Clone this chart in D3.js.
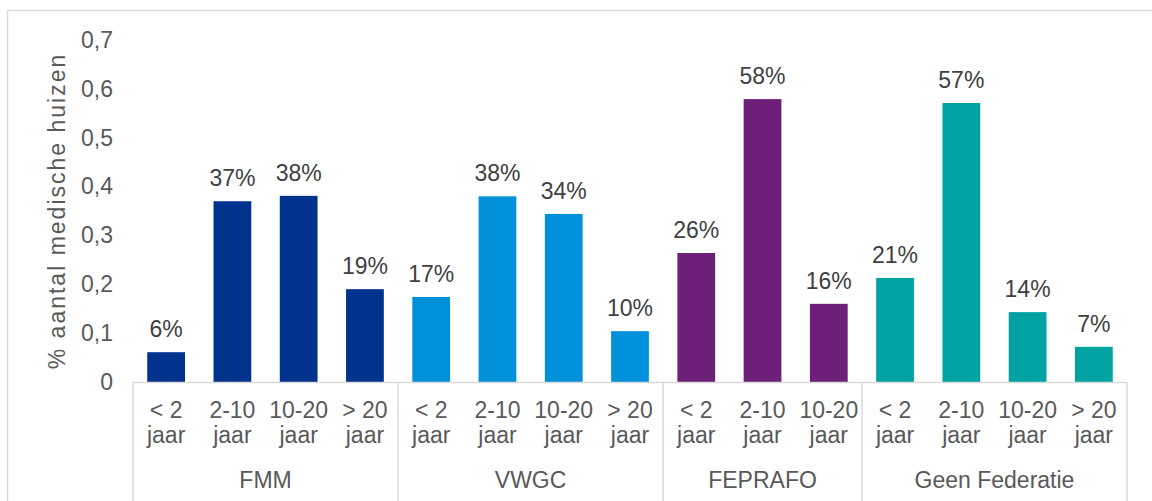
<!DOCTYPE html>
<html>
<head>
<meta charset="utf-8">
<script src="https://cdn.jsdelivr.net/npm/d3@7"></script>
<style>
  body { margin: 0; background: #fff; }
  text { font-family: "Liberation Sans", Arial, sans-serif; }
</style>
</head>
<body>
<div id="chart"></div>
<script>
var W = 1152, H = 501;

// data
var groups = ["FMM", "VWGC", "FEPRAFO", "Geen Federatie"];
var groupColors = ["#00338D", "#0091DA", "#6D2077", "#00A3A1"];
var ageFMM = ["< 2|jaar", "2-10|jaar", "10-20|jaar", "> 20|jaar"];
var ageVWGC = ["< 2|jaar", "2-10|jaar", "10-20|jaar", "> 20|jaar"];
var ageFEPRAFO = ["< 2|jaar", "2-10|jaar", "10-20|jaar"];
var ageGeen = ["< 2|jaar", "2-10|jaar", "10-20|jaar", "> 20|jaar"];
var valFMM = [0.061, 0.37, 0.381, 0.19];
var valVWGC = [0.174, 0.38, 0.344, 0.104];
var valFEPRAFO = [0.264, 0.579, 0.16];
var valGeen = [0.213, 0.571, 0.143, 0.072];
var yTicks = [0, 0.1, 0.2, 0.3, 0.4, 0.5, 0.6, 0.7];

var ages = [ageFMM, ageVWGC, ageFEPRAFO, ageGeen];
var vals = [valFMM, valVWGC, valFEPRAFO, valGeen];
var FS = "23px";

// flatten into one row per bar
var rows = [];
groups.forEach(function (g, gi) {
    vals[gi].forEach(function (v, i) {
        rows.push({ group: gi, label: ages[gi][i], value: v, idx: rows.length });
    });
});

var svg = d3.select("#chart").append("svg")
    .attr("width", W)
    .attr("height", H);

// outer frame
svg.append("rect")
    .attr("x", 7.5).attr("y", 10.5)
    .attr("width", W).attr("height", H)
    .attr("fill", "none")
    .attr("stroke", "#d9d9d9")
    .attr("stroke-width", 1.5);

var x0 = 133, x1 = 1127, yTop = 40, yBot = 382;

var xScale = d3.scaleBand()
    .domain(rows.map(function (d) { return d.idx; }))
    .range([x0, x1])
    .paddingInner(0.43)
    .paddingOuter(0.215);

var yScale = d3.scaleLinear()
    .domain([0, 0.7])
    .range([yBot, yTop]);

// y tick labels (no axis line)
var yAxis = d3.axisLeft(yScale)
    .tickValues(yTicks)
    .tickSize(0)
    .tickPadding(0)
    .tickFormat(function (d) { return d3.format(".1f")(d).replace(".", ",").replace(/^0,0$/, "0"); });

var yg = svg.append("g")
    .attr("transform", "translate(113,0)")
    .call(yAxis);
yg.select(".domain").remove();
yg.selectAll("text")
    .attr("fill", "#595959")
    .style("font-size", FS)
    .style("font-family", "Liberation Sans, Arial, sans-serif");

// y title
svg.append("text")
    .attr("transform", "translate(65," + ((yTop + yBot) / 2) + ") rotate(-90)")
    .attr("text-anchor", "middle")
    .attr("fill", "#595959")
    .style("font-size", FS)
    .style("letter-spacing", "2px")
    .text("% aantal medische huizen");

// bars
svg.selectAll("rect.bar")
    .data(rows)
    .enter().append("rect")
    .attr("class", "bar")
    .attr("x", function (d) { return xScale(d.idx); })
    .attr("width", xScale.bandwidth())
    .attr("y", function (d) { return yScale(d.value); })
    .attr("height", function (d) { return yBot - yScale(d.value); })
    .attr("fill", function (d) { return groupColors[d.group]; });

// data labels
svg.selectAll("text.dl")
    .data(rows)
    .enter().append("text")
    .attr("class", "dl")
    .attr("x", function (d) { return xScale(d.idx) + xScale.bandwidth() / 2; })
    .attr("y", function (d) { return yScale(d.value) - 15; })
    .attr("text-anchor", "middle")
    .attr("fill", "#404040")
    .style("font-size", FS)
    .text(function (d) { return Math.round(d.value * 100) + "%"; });

// category axis
var axisColor = "#d9d9d9";
svg.append("line")
    .attr("x1", x0).attr("x2", x1)
    .attr("y1", yBot + 0.5).attr("y2", yBot + 0.5)
    .attr("stroke", axisColor).attr("stroke-width", 1.5);

// group separators
var bounds = [0];
var count = 0;
vals.forEach(function (v) { count += v.length; bounds.push(count); });
bounds.forEach(function (b) {
    var bx = b === rows.length ? x1 : x0 + xScale.step() * b;
    svg.append("line")
        .attr("x1", bx).attr("x2", bx)
        .attr("y1", yBot).attr("y2", H)
        .attr("stroke", axisColor).attr("stroke-width", 1.5);
});

// category labels (two lines)
var cl = svg.selectAll("text.cl")
    .data(rows)
    .enter().append("text")
    .attr("class", "cl")
    .attr("text-anchor", "middle")
    .attr("fill", "#595959")
    .style("font-size", FS);
cl.each(function (d) {
    var parts = d.label.split("|");
    var cx = xScale(d.idx) + xScale.bandwidth() / 2;
    var t = d3.select(this);
    t.append("tspan").attr("x", cx).attr("y", 418).text(parts[0]);
    t.append("tspan").attr("x", cx).attr("y", 443).text(parts[1]);
});

// group labels
groups.forEach(function (g, gi) {
    var a = x0 + xScale.step() * bounds[gi];
    var b = x0 + xScale.step() * bounds[gi + 1];
    svg.append("text")
        .attr("x", (a + b) / 2)
        .attr("y", 488)
        .attr("text-anchor", "middle")
        .attr("fill", "#595959")
        .style("font-size", FS)
        .text(g);
});
</script>
</body>
</html>
